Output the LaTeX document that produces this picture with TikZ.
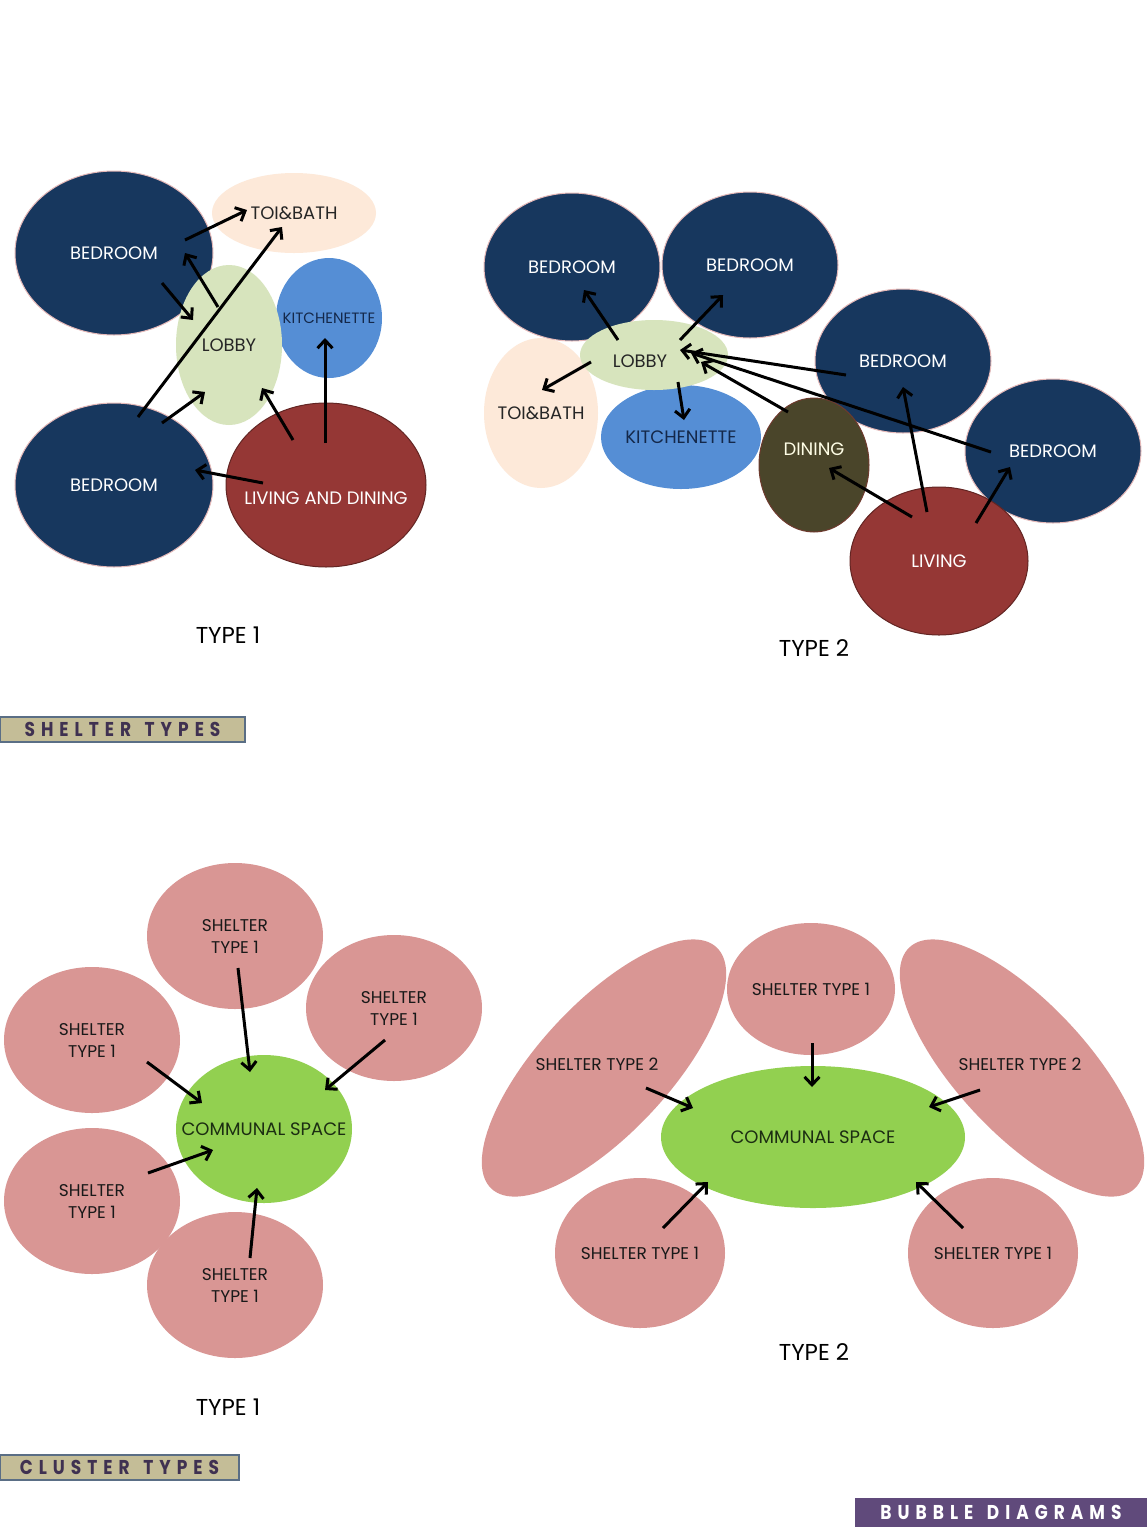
\documentclass[tikz,border=0pt]{standalone}
\usepackage{fontspec}
\setmainfont{Poppins}
\newfontfamily\tagfont{Poppins}[LetterSpace=30, FakeStretch=0.85]
\definecolor{roomNavy}{HTML}{17375E}
\definecolor{edgePink}{HTML}{E6B9B8}
\definecolor{bathPeach}{HTML}{FDE9D9}
\definecolor{lobbyGreen}{HTML}{D7E4BD}
\definecolor{kitchenBlue}{HTML}{558ED5}
\definecolor{kitchenText}{HTML}{14284A}
\definecolor{livingRed}{HTML}{953735}
\definecolor{livingEdge}{HTML}{632523}
\definecolor{diningOlive}{HTML}{4A452A}
\definecolor{diningEdge}{HTML}{6E3A2E}
\definecolor{shelterPink}{HTML}{D99694}
\definecolor{communalGreen}{HTML}{92D050}
\definecolor{communalText}{HTML}{1C2E12}
\definecolor{tagTan}{HTML}{C4BD97}
\definecolor{tagEdge}{HTML}{5A6E85}
\definecolor{tagText}{HTML}{3F3151}
\definecolor{tagPurple}{HTML}{604A7B}
\usetikzlibrary{shapes.geometric, arrows.meta}

\begin{document}
\begin{tikzpicture}[x=1pt, y=-1pt,
    roomfont/.style={font=\fontsize{18}{22}\selectfont},
    bubble/.style={ellipse, inner sep=0pt, align=center, roomfont},
    bedroom/.style={bubble, fill=roomNavy, draw=edgePink, line width=1pt, text=white},
    shelter/.style={bubble, fill=shelterPink, text=black!90, font=\fontsize{17}{22}\selectfont,
                    minimum width=176pt, minimum height=146pt},
    communal/.style={bubble, fill=communalGreen, text=communalText},
    arr/.style={line width=3pt, -{Straight Barb[length=8pt, width=15pt]}},
    caption/.style={font=\fontsize{23}{26}\selectfont},
    tag/.style={draw=tagEdge, line width=1.5pt, minimum height=25pt, inner sep=0pt,
                font=\tagfont\bfseries\fontsize{20}{22}\selectfont}
  ]
\fill[white] (0,0) rectangle (1147,1532);
\useasboundingbox (0,0) rectangle (1147,1532);

% shelter type 1
\node[bedroom, minimum width=198pt, minimum height=164pt] (bedA) at (114,253) {BEDROOM};
\node[bedroom, minimum width=198pt, minimum height=164pt] (bedB) at (114,485) {BEDROOM};
\node[bubble, fill=bathPeach, text=black!85, minimum width=164pt, minimum height=80pt] (toiA) at (294,213) {TOI\&BATH};
\node[bubble, fill=kitchenBlue, text=kitchenText, font=\fontsize{15}{17}\selectfont,
      minimum width=106pt, minimum height=120pt] (kitA) at (329,318) {\makebox[0pt]{KITCHENETTE}};
\node[bubble, fill=livingRed, draw=livingEdge, line width=1pt, minimum width=200pt, minimum height=164pt,
      label={[roomfont, text=white, yshift=-13pt]center:LIVING AND DINING}] (livA) at (326,485) {};
\node[bubble, fill=lobbyGreen, text=black!85, minimum width=106pt, minimum height=160pt] (lobA) at (229,345) {LOBBY};

\draw[arr] ([shift={(71,-13)}]bedA.center) -- ([shift={(-47,-3)}]toiA.center);
\draw[arr] ([shift={(-11,-38)}]lobA.center) -- ([shift={(71,0)}]bedA.center);
\draw[arr] ([shift={(48,30)}]bedA.center) -- ([shift={(-36,-25)}]lobA.center);
\draw[arr] ([shift={(24,-68)}]bedB.center) -- ([shift={(-12,14)}]toiA.center);
\draw[arr] ([shift={(48,-62)}]bedB.center) -- ([shift={(-24,47)}]lobA.center);
\draw[arr] ([shift={(-33,-45)}]livA.center) -- ([shift={(33,43)}]lobA.center);
\draw[arr] ([shift={(-1,-42)}]livA.center) -- ([shift={(-4,20)}]kitA.center);
\draw[arr] ([shift={(-63,-2)}]livA.center) -- ([shift={(81,-15)}]bedB.center);

\node[caption] (capA) at (228,635) {TYPE 1};

% shelter type 2
\node[bubble, fill=bathPeach, text=black!85, minimum width=114pt, minimum height=150pt] (toiB) at (541,413) {\makebox[0pt]{TOI\&BATH}};
\node[bedroom, minimum width=176pt, minimum height=148pt] (bedC) at (572,267) {BEDROOM};
\node[bedroom, minimum width=176pt, minimum height=146pt] (bedD) at (750,265) {BEDROOM};
\node[bubble, fill=kitchenBlue, text=kitchenText, minimum width=160pt, minimum height=104pt] (kitB) at (681,437) {KITCHENETTE};
\node[bubble, fill=lobbyGreen, minimum width=148pt, minimum height=70pt,
      label={[roomfont, text=black!85, xshift=-14pt, yshift=-6pt]center:LOBBY}] (lobB) at (654,355) {};
\node[bedroom, minimum width=176pt, minimum height=144pt] (bedE) at (903,361) {BEDROOM};
\node[bedroom, minimum width=176pt, minimum height=144pt] (bedF) at (1053,451) {BEDROOM};
\node[bubble, fill=diningOlive, draw=diningEdge, line width=1pt, minimum width=110pt, minimum height=134pt,
      label={[roomfont, text=white!90!yellow, yshift=16pt]center:DINING}] (dinB) at (814,465) {};
\node[bubble, fill=livingRed, draw=livingEdge, line width=1pt, text=white, minimum width=178pt, minimum height=148pt] (livB) at (939,561) {LIVING};

\draw[arr] ([shift={(-36,-15)}]lobB.center) -- ([shift={(12,23)}]bedC.center);
\draw[arr] ([shift={(26,-15)}]lobB.center) -- ([shift={(-27,30)}]bedD.center);
\draw[arr] ([shift={(-63,7)}]lobB.center) -- ([shift={(1,-23)}]toiB.center);
\draw[arr] ([shift={(24,27)}]lobB.center) -- ([shift={(3,-17)}]kitB.center);
\draw[arr] ([shift={(-57,14)}]bedE.center) -- ([shift={(26,-5)}]lobB.center);
\draw[arr] ([shift={(-26,-53)}]dinB.center) -- ([shift={(47,7)}]lobB.center);
\draw[arr] ([shift={(-62,1)}]bedF.center) -- ([shift={(37,-2)}]lobB.center);
\draw[arr] ([shift={(-27,-44)}]livB.center) -- ([shift={(15,3)}]dinB.center);
\draw[arr] ([shift={(-12,-49)}]livB.center) -- ([shift={(0,26)}]bedE.center);
\draw[arr] ([shift={(37,-38)}]livB.center) -- ([shift={(-43,16)}]bedF.center);

\node[caption] (capB) at (814,648) {TYPE 2};

\node[tag, fill=tagTan, text=tagText, minimum width=245pt] (shelterTag) at (122.5,729.5) {SHELTER\hspace{4pt} TYPES};

% cluster type 1
\node[shelter] (stTop) at (235,936) {SHELTER\\TYPE 1};
\node[shelter] (stUL) at (92,1040) {SHELTER\\TYPE 1};
\node[shelter] (stR) at (394,1008) {SHELTER\\TYPE 1};
\node[shelter] (stLL) at (92,1201) {SHELTER\\TYPE 1};
\node[shelter] (stBot) at (235,1285) {SHELTER\\TYPE 1};
\node[communal, minimum width=176pt, minimum height=148pt] (commA) at (264,1129) {\makebox[0pt]{COMMUNAL SPACE}};

\draw[arr] ([shift={(3,32)}]stTop.center) -- ([shift={(-14,-57)}]commA.center);
\draw[arr] ([shift={(55,22)}]stUL.center) -- ([shift={(-62,-26)}]commA.center);
\draw[arr] ([shift={(-9,32)}]stR.center) -- ([shift={(61,-39)}]commA.center);
\draw[arr] ([shift={(56,-28)}]stLL.center) -- ([shift={(-51,21)}]commA.center);
\draw[arr] ([shift={(15,-27)}]stBot.center) -- ([shift={(-7,59)}]commA.center);

\node[caption] (capC) at (228,1407) {TYPE 1};

% cluster type 2
\node[shelter, rotate=47, minimum width=330pt, minimum height=130pt] (stWideL) at (604,1068) {};
\node[shelter, rotate=-47, minimum width=330pt, minimum height=130pt] (stWideR) at (1022,1068) {};
\node[font=\fontsize{17}{22}\selectfont, text=black!90] (stWideLtext) at (597,1064) {SHELTER TYPE 2};
\node[font=\fontsize{17}{22}\selectfont, text=black!90] (stWideRtext) at (1020,1064) {SHELTER TYPE 2};
\node[shelter, minimum width=168pt, minimum height=132pt] (stMid) at (811,989) {SHELTER TYPE 1};
\node[shelter, minimum width=170pt, minimum height=150pt] (stBL) at (640,1253) {SHELTER TYPE 1};
\node[shelter, minimum width=170pt, minimum height=150pt] (stBR) at (993,1253) {SHELTER TYPE 1};
\node[communal, minimum width=304pt, minimum height=142pt] (commB) at (813,1137) {COMMUNAL SPACE};

\draw[arr] ([shift={(1,54)}]stMid.center) -- ([shift={(-1,-50)}]commB.center);
\draw[arr] ([shift={(42,20)}]stWideL.center) -- ([shift={(-120,-29)}]commB.center);
\draw[arr] ([shift={(-42,22)}]stWideR.center) -- ([shift={(116,-30)}]commB.center);
\draw[arr] ([shift={(23,-25)}]stBL.center) -- ([shift={(-105,45)}]commB.center);
\draw[arr] ([shift={(-30,-25)}]stBR.center) -- ([shift={(103,45)}]commB.center);

\node[caption] (capD) at (814,1352) {TYPE 2};

\node[tag, fill=tagTan, text=tagText, minimum width=239pt] (clusterTag) at (119.5,1467.5) {CLUSTER\hspace{4pt} TYPES};
\node[tag, draw=none, fill=tagPurple, text=white, minimum width=292pt, minimum height=29pt] (bubbleTag) at (1001,1512.5) {BUBBLE\hspace{4pt} DIAGRAMS};
\end{tikzpicture}
\end{document}
